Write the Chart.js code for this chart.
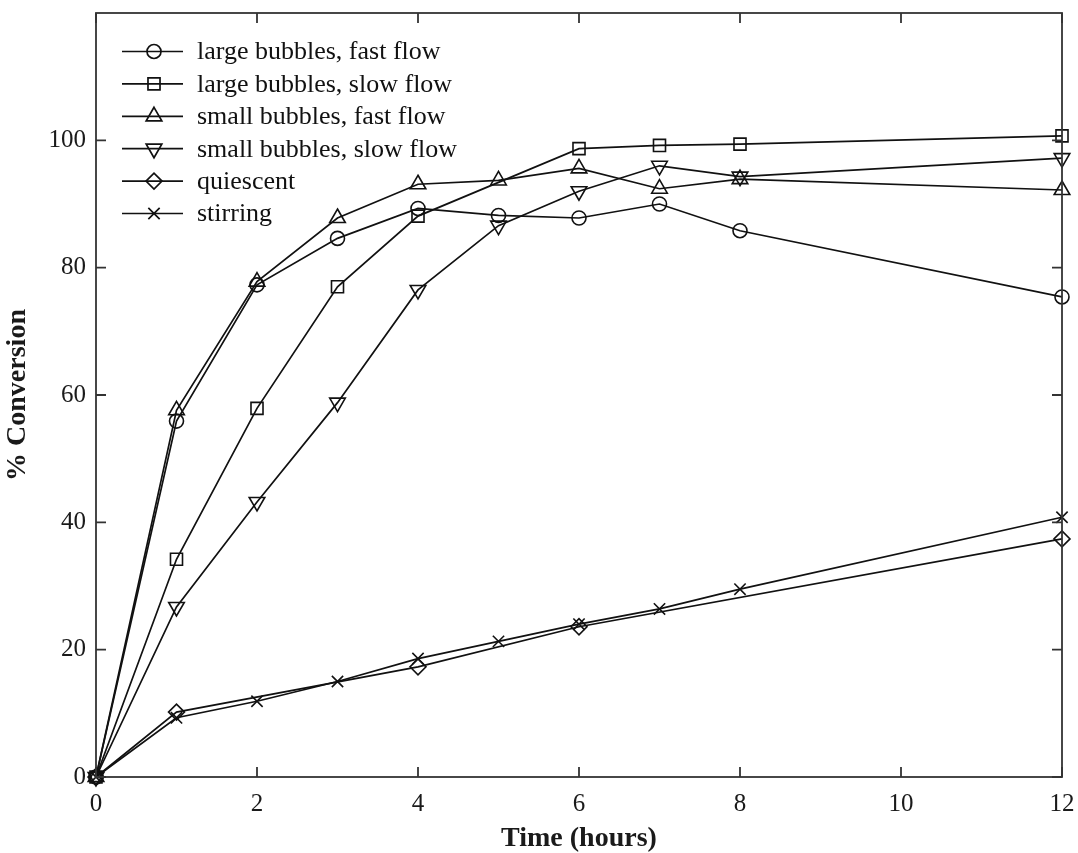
<!DOCTYPE html>
<html>
<head>
<meta charset="utf-8">
<script src="https://cdn.jsdelivr.net/npm/chart.js@4/dist/chart.umd.min.js"></script>
<style>
  body { margin: 0; background: #fff; }
  #wrap { width: 1078px; height: 853px; }
</style>
</head>
<body>
<div id="wrap"><canvas id="conv" width="1078" height="853"></canvas></div>
<script>
// --- data ---
const timeFull = [0, 1, 2, 3, 4, 5, 6, 7, 8, 12];
const timeLargeSlow = [0, 1, 2, 3, 4, 6, 7, 8, 12];
const timeQuiescent = [0, 1, 4, 6, 12];

const largeFast = [0, 55.9, 77.3, 84.6, 89.3, 88.2, 87.8, 90.0, 85.8, 75.4];
const largeSlow = [0, 34.2, 57.9, 77.0, 88.1, 98.7, 99.2, 99.4, 100.7];
const smallFast = [0, 57.6, 77.8, 87.8, 93.1, 93.7, 95.6, 92.4, 93.9, 92.2];
const smallSlow = [0, 26.7, 43.2, 58.8, 76.5, 86.6, 92.0, 96.0, 94.3, 97.2];
const quiescent = [0, 10.2, 17.3, 23.6, 37.4];
const stirring = [0, 9.3, 11.9, 15.0, 18.6, 21.3, 24.0, 26.4, 29.5, 40.8];

const xTicks = [0, 2, 4, 6, 8, 10, 12];
const yTicks = [0, 20, 40, 60, 80, 100];

const seriesNames = [
    'large bubbles, fast flow',
    'large bubbles, slow flow',
    'small bubbles, fast flow',
    'small bubbles, slow flow',
    'quiescent',
    'stirring'
];

const FONT = "'Liberation Serif', 'Times New Roman', serif";
const INK = '#111';

function pairs(xs, ys) {
    return xs.map((x, i) => ({ x: x, y: ys[i] }));
}

function series(label, xs, ys, style, radius, rotation) {
    return {
        label: label,
        data: pairs(xs, ys),
        borderColor: INK,
        borderWidth: 1.7,
        pointStyle: style,
        rotation: rotation || 0,
        pointRadius: radius,
        pointBorderWidth: 1.6,
        pointBorderColor: INK,
        pointBackgroundColor: 'rgba(0,0,0,0)',
        clip: false,
        tension: 0
    };
}

const datasets = [
    series(seriesNames[0], timeFull, largeFast, 'circle', 7),
    series(seriesNames[1], timeLargeSlow, largeSlow, 'rect', 8.5),
    series(seriesNames[2], timeFull, smallFast, 'triangle', 9),
    series(seriesNames[3], timeFull, smallSlow, 'triangle', 9, 180),
    series(seriesNames[4], timeQuiescent, quiescent, 'rectRot', 8),
    series(seriesNames[5], timeFull, stirring, 'crossRot', 8)
];

// box around the plot + inward ticks on every side (MATLAB style)
const boxTicks = {
    id: 'boxTicks',
    afterDatasetsDraw(chart) {
        const { ctx, chartArea: a, scales } = chart;
        const len = 10;
        ctx.save();
        ctx.strokeStyle = '#333';
        ctx.lineWidth = 1.8;
        ctx.beginPath();
        scales.x.ticks.forEach(t => {
            const px = scales.x.getPixelForValue(t.value);
            ctx.moveTo(px, a.bottom); ctx.lineTo(px, a.bottom - len);
            ctx.moveTo(px, a.top); ctx.lineTo(px, a.top + len);
        });
        scales.y.ticks.forEach(t => {
            const py = scales.y.getPixelForValue(t.value);
            ctx.moveTo(a.left, py); ctx.lineTo(a.left + len, py);
            ctx.moveTo(a.right, py); ctx.lineTo(a.right - len, py);
        });
        ctx.stroke();
        ctx.strokeRect(a.left, a.top, a.right - a.left, a.bottom - a.top);
        ctx.restore();
    }
};

// legend drawn inside the axes, top-left
const insideLegend = {
    id: 'insideLegend',
    afterDatasetsDraw(chart) {
        const ctx = chart.ctx;
        const a = chart.chartArea;
        const x0 = a.left + 26, x1 = a.left + 87, xm = a.left + 58, xt = a.left + 101;
        const y0 = a.top + 38.5, step = 32.4;
        ctx.save();
        ctx.font = '26px ' + FONT;
        ctx.textBaseline = 'middle';
        chart.data.datasets.forEach((ds, i) => {
            const y = y0 + i * step;
            ctx.strokeStyle = INK;
            ctx.lineWidth = 1.7;
            ctx.beginPath();
            ctx.moveTo(x0, y); ctx.lineTo(x1, y);
            ctx.stroke();
            ctx.fillStyle = 'rgba(0,0,0,0)';
            Chart.helpers.drawPoint(ctx, {
                pointStyle: ds.pointStyle,
                radius: ds.pointRadius,
                rotation: ds.rotation,
                borderWidth: 1.6
            }, xm, y);
            ctx.fillStyle = '#111';
            ctx.fillText(ds.label, xt, y + 1);
        });
        ctx.restore();
    }
};

new Chart(document.getElementById('conv'), {
    type: 'line',
    data: { datasets: datasets },
    options: {
        responsive: false,
        animation: false,
        layout: { padding: { top: 13, right: 16, left: 0, bottom: 0 } },
        plugins: {
            legend: { display: false },
            tooltip: { enabled: false }
        },
        scales: {
            x: {
                type: 'linear',
                min: 0,
                max: 12,
                afterBuildTicks: s => { s.ticks = xTicks.map(v => ({ value: v })); },
                afterFit: s => { s.height = 76; s.paddingLeft = 0; s.paddingRight = 0; },
                grid: { display: false, drawTicks: false },
                border: { display: false },
                ticks: { color: '#1a1a1a', padding: 12, font: { family: FONT, size: 25 } },
                title: {
                    display: true,
                    text: 'Time (hours)',
                    color: '#1a1a1a',
                    padding: { top: 0, bottom: 0 },
                    font: { family: FONT, size: 28, weight: 'bold', lineHeight: 1 }
                }
            },
            y: {
                min: 0,
                max: 120,
                afterBuildTicks: s => { s.ticks = yTicks.map(v => ({ value: v })); },
                afterFit: s => { s.width = 96; s.paddingTop = 0; s.paddingBottom = 0; },
                grid: { display: false, drawTicks: false },
                border: { display: false },
                ticks: { color: '#1a1a1a', padding: 10, font: { family: FONT, size: 25 } },
                title: {
                    display: true,
                    text: '% Conversion',
                    color: '#1a1a1a',
                    padding: { top: 4, bottom: 0 },
                    font: { family: FONT, size: 28, weight: 'bold', lineHeight: 1 }
                }
            }
        }
    },
    plugins: [boxTicks, insideLegend]
});
</script>
</body>
</html>
